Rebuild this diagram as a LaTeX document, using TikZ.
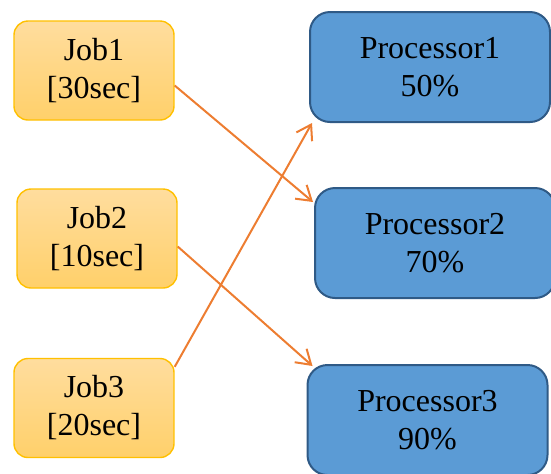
\documentclass[tikz,border=0pt]{standalone}
\usepackage{fontspec}
\setmainfont{Liberation Serif}
\usetikzlibrary{arrows.meta,calc}
\definecolor{jobtop}{HTML}{FFDD9E}
\definecolor{jobbot}{HTML}{FFD06A}
\definecolor{jobline}{HTML}{FFC000}
\definecolor{procfill}{HTML}{5B9BD5}
\definecolor{procline}{HTML}{2F5A86}
\definecolor{arrowcol}{HTML}{ED7D31}
\tikzset{
  jobbox/.style={rectangle, rounded corners=7pt, draw=jobline, line width=0.7pt,
    top color=jobtop, bottom color=jobbot, minimum width=80pt, minimum height=49.5pt,
    align=center, font=\fontsize{16}{19}\selectfont, inner sep=0pt},
  procbox/.style={rectangle, rounded corners=10pt, draw=procline, line width=1pt,
    fill=procfill, minimum width=120pt, minimum height=55pt,
    align=center, font=\fontsize{16}{19}\selectfont, inner sep=0pt},
  conn/.style={draw=arrowcol, line width=1pt, -{Straight Barb[length=7pt,width=9pt,line width=1pt]}}
}
\begin{document}
\begin{tikzpicture}[x=0.5pt,y=-0.5pt]
\useasboundingbox (0,0) rectangle (551,473);
\node[jobbox] (job1) at (94,70.5) {Job1\\{[}30sec{]}};
\node[jobbox] (job2) at (97,238.5) {Job2\\{[}10sec{]}};
\node[jobbox] (job3) at (94,408) {Job3\\{[}20sec{]}};
\node[procbox] (proc1) at (430,67) {Processor1\\50\%};
\node[procbox] (proc2) at (435,243) {Processor2\\70\%};
\node[procbox] (proc3) at (427.5,420) {Processor3\\90\%};
\draw[conn] ($(job1.east)+(0,15)$) -- ($(proc2.north west)+(-1,15)$);
\draw[conn] ($(job2.east)+(0,8)$) -- ($(proc3.north west)+(6,2)$);
\draw[conn] ($(job3.north east)+(0,9)$) -- ($(proc1.south west)+(3,0)$);
\end{tikzpicture}
\end{document}
